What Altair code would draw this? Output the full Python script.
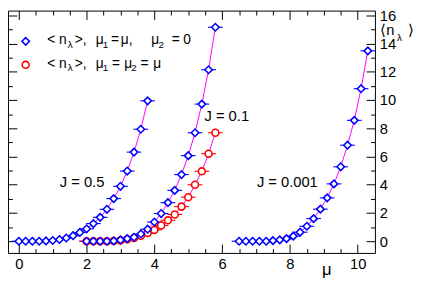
import altair as alt
import pandas as pd

# ---- data ----
mu_j05 = [0.0, 0.2, 0.4, 0.6, 0.8, 1.0, 1.2, 1.4, 1.6, 1.8,
          2.0, 2.2, 2.4, 2.6, 2.8, 3.0, 3.2, 3.4, 3.6, 3.8]
n_j05 = [0, 0, 0, 0, 0.02, 0.05, 0.12, 0.23, 0.39, 0.62,
         0.88, 1.25, 1.69, 2.26, 3.02, 3.89, 4.97, 6.31, 7.93, 9.94]

mu_j01 = [2.0, 2.2, 2.4, 2.6, 2.8, 3.0, 3.2, 3.4, 3.6, 3.8,
          4.0, 4.2, 4.4, 4.6, 4.8, 5.0, 5.2, 5.4, 5.6, 5.8]
n_j01_mu2zero = [0, 0, 0, 0, 0.02, 0.09, 0.18, 0.28, 0.51, 0.85,
                 1.36, 1.96, 2.73, 3.6, 4.72, 6.06, 7.68, 9.71, 12.14, 15.15]
n_j01_mu2mu = [0, 0, 0, 0, 0.01, 0.06, 0.14, 0.23, 0.39, 0.58,
               0.8, 1.11, 1.48, 1.89, 2.45, 3.12, 4.0, 4.95, 6.2, 7.68]

mu_j0001 = [6.5, 6.7, 6.9, 7.1, 7.3, 7.5, 7.7, 7.9, 8.1, 8.3,
            8.5, 8.7, 8.9, 9.1, 9.3, 9.5, 9.7, 9.9, 10.1, 10.3]
n_j0001 = [0, 0, 0, 0, 0, 0.04, 0.1, 0.18, 0.36, 0.64,
           1.06, 1.6, 2.27, 3.07, 4.06, 5.27, 6.8, 8.56, 10.8, 13.48]

x_major = [0, 2, 4, 6, 8, 10]
x_minor = [0.5, 1, 1.5, 2.5, 3, 3.5, 4.5, 5, 5.5, 6.5, 7, 7.5, 8.5, 9, 9.5]
y_major = [0, 2, 4, 6, 8, 10, 12, 14, 16]
y_minor = [1, 3, 5, 7, 9, 11, 13, 15]

rows = []
for s, kind, xs, ys in [
    ("J=0.5", "blue", mu_j05, n_j05),
    ("J=0.1 a", "blue", mu_j01, n_j01_mu2zero),
    ("J=0.1 b", "red", mu_j01, n_j01_mu2mu),
    ("J=0.001", "blue", mu_j0001, n_j0001),
]:
    for a, b in zip(xs, ys):
        rows.append({"series": s, "kind": kind, "mu": a, "n": b})
df = pd.DataFrame(rows)

W, H = 374, 247
FONT = "Liberation Sans"
xs_ = alt.Scale(domain=[-0.32, 10.51], nice=False, zero=False)
ys_ = alt.Scale(domain=[-0.83, 16.33], nice=False, zero=False)

common = dict(domain=False, grid=False, tickColor="black", tickWidth=1,
              labelFont=FONT, labelFontSize=15, labelColor="black")


def ax(orient, values, size, labels=False, pad=4):
    kw = dict(common)
    if labels:
        kw.update(labels=True, labelPadding=pad, format="d")
    else:
        kw.update(labels=False)
    return alt.Axis(orient=orient, values=values, tickSize=size, offset=-size, **kw)


base = alt.Chart(df)

lines = base.mark_line(color="#ff00ff", strokeWidth=1).encode(
    x=alt.X("mu:Q", scale=xs_, title=None, axis=ax("bottom", x_major, 9, True, 4)),
    y=alt.Y("n:Q", scale=ys_, title=None, axis=ax("right", y_major, 9, True, 4.5)),
    detail="series:N",
)

bars = base.mark_point(shape="M-1,0L1,0", size=225, filled=False, strokeWidth=1.1, opacity=1).encode(
    x=alt.X("mu:Q", scale=xs_, title=None, axis=ax("bottom", x_minor, 4.5)),
    y=alt.Y("n:Q", scale=ys_, title=None, axis=ax("right", y_minor, 4.5)),
    color=alt.Color("kind:N", scale=alt.Scale(domain=["blue", "red"], range=["#0000ff", "#ff0000"]), legend=None),
    detail="series:N",
)

circles = base.transform_filter(alt.datum.kind == "red").mark_point(
    shape="circle", size=50, fill="white", fillOpacity=1, stroke="#ff0000", strokeWidth=1.6, opacity=1
).encode(
    x=alt.X("mu:Q", scale=xs_, title=None, axis=ax("top", x_major, 9)),
    y=alt.Y("n:Q", scale=ys_, title=None, axis=ax("left", y_major, 9)),
)

diamonds = base.transform_filter(alt.datum.kind == "blue").mark_point(
    shape="diamond", size=58, fill="white", fillOpacity=1, stroke="#0000ff", strokeWidth=1.6, opacity=1
).encode(
    x=alt.X("mu:Q", scale=xs_, title=None, axis=ax("top", x_minor, 4.5)),
    y=alt.Y("n:Q", scale=ys_, title=None, axis=ax("left", y_minor, 4.5)),
)

dummy = pd.DataFrame({"a": [0]})


def txt(s, x, y, size, align="left", baseline="middle"):
    # x, y given in page pixels; plot origin sits at (8, 8)
    return alt.Chart(dummy).mark_text(
        text=s, font=FONT, fontSize=size, align=align, baseline=baseline, color="black"
    ).encode(x=alt.value(x - 8), y=alt.value(y - 8))


def marker(shape, color, x, y, size):
    return alt.Chart(dummy).mark_point(
        shape=shape, size=size, fill="white", fillOpacity=1, stroke=color, strokeWidth=1.6, opacity=1
    ).encode(x=alt.value(x - 8), y=alt.value(y - 8))


def legend_row(y, rest):
    items = [
        txt("<", 48, y, 14), txt("n", 60, y, 14), txt("λ", 69, y + 5, 10),
        txt(">,", 76, y, 14),
    ]
    for s, x, sub in rest:
        items.append(txt(s, x, y + 5 if sub else y, 10 if sub else 14))
    return items


texts = [
    txt("J = 0.5", 83.5, 183, 15, "center"),
    txt("J = 0.1", 231, 116, 15, "center"),
    txt("J = 0.001", 292.7, 183, 15, "center"),
    marker("diamond", "#0000ff", 26, 39.3, 58),
    marker("circle", "#ff0000", 26, 63.3, 50),
    *legend_row(38, [("μ", 97.5, False), ("1", 104.5, True), ("=", 113, False),
                     ("μ,", 123, False), ("μ", 154, False), ("2", 161.5, True),
                     ("=", 175, False), ("0", 186.5, False)]),
    *legend_row(62, [("μ", 97.5, False), ("1", 104.5, True), ("=", 114, False),
                     ("μ", 126.5, False), ("2", 133.5, True), ("=", 143, False),
                     ("μ", 156, False)]),
    # axis titles
    txt("μ", 333, 277, 17, "center", "alphabetic"),
    txt("⟨n", 387.5, 27.5, 15), txt("λ", 404.5, 36, 10), txt("⟩", 416, 27.5, 15),
]

chart = alt.layer(lines, bars, circles, diamonds, *texts).resolve_axis(
    x="independent", y="independent"
).properties(
    width=W, height=H,
    autosize=alt.AutoSizeParams(type="none"),
    padding={"left": 0, "top": 0, "right": 50, "bottom": 29},
).configure_view(stroke="black", strokeWidth=1)

chart.save("out.html", embed_options={"renderer": "svg", "actions": False})
